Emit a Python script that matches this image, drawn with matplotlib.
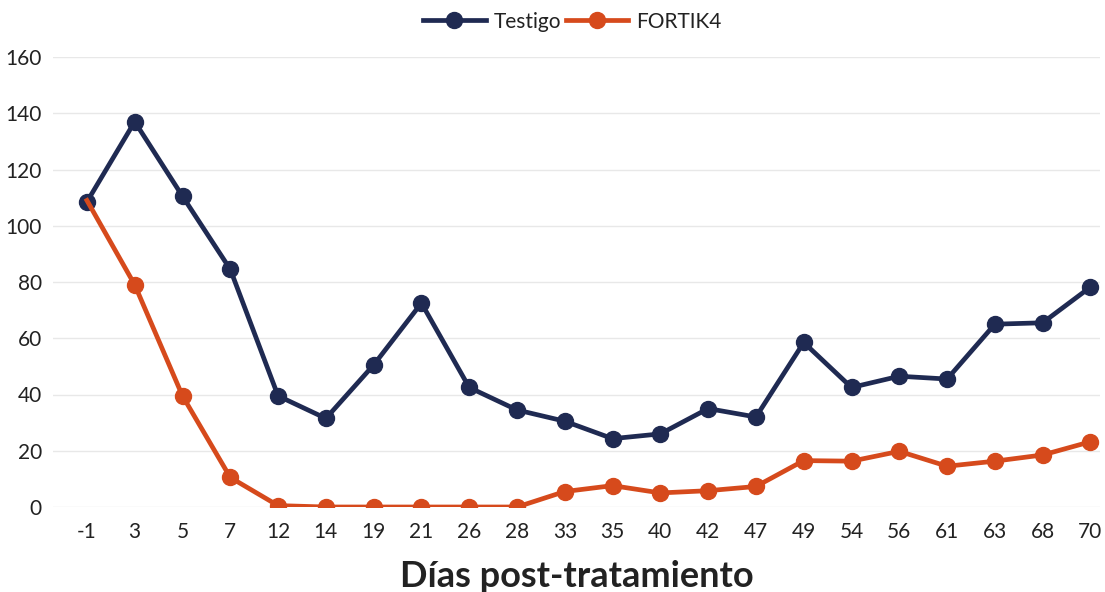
import matplotlib
matplotlib.use("Agg")
import matplotlib.pyplot as plt

DAYS = ["-1", "3", "5", "7", "12", "14", "19", "21", "26", "28", "33",
        "35", "40", "42", "47", "49", "54", "56", "61", "63", "68", "70"]
TESTIGO = [108.5, 137, 110.5, 84.5, 39.5, 31.5, 50.5, 72.5, 42.5, 34.5, 30.5,
           24.3, 26, 35, 32, 58.5, 42.5, 46.5, 45.5, 65, 65.5, 78.2]
FORTIK4 = [109, 79, 39.5, 10.5, 0.5, 0, 0, 0, 0, 0, 5.5,
           7.6, 5, 5.8, 7.3, 16.5, 16.3, 19.8, 14.5, 16.3, 18.5, 23.2]

NAVY = "#1F2A52"
ORANGE = "#D64A1C"
INK = "#222222"

plt.rcParams["font.family"] = ["Lato", "DejaVu Sans"]

fig = plt.figure(figsize=(11.05, 5.92), dpi=100)
ax = fig.add_axes([53 / 1105, 85 / 592, 1047 / 1105, 450 / 592])

x = list(range(len(DAYS)))
ax.plot(x, TESTIGO, color=NAVY, lw=3.4, marker="o", ms=11.5, label="Testigo", zorder=3)
# first orange point has its marker hidden, line still passes over the navy dot
ax.plot(x, FORTIK4, color=ORANGE, lw=3.4, marker="o", ms=11.5, label="FORTIK4", zorder=4,
        markevery=list(range(1, len(x))))

ax.set_ylim(0, 160)
ax.set_yticks(range(0, 161, 20))
ax.set_xlim(-0.71, 21.2)
ax.set_xticks(x)
ax.set_xticklabels(DAYS)
ax.tick_params(axis="both", length=0, labelsize=15, colors=INK)
ax.tick_params(axis="x", pad=11)
ax.tick_params(axis="y", pad=8)
ax.grid(axis="y", color="#E8E8E8", lw=1)
ax.set_axisbelow(True)
for s in ax.spines.values():
    s.set_visible(False)

ax.set_xlabel("Días post-tratamiento", fontsize=26, fontweight="bold", color=INK, labelpad=13)

fig.legend(loc="upper center", bbox_to_anchor=(0.518, 1.012), ncol=2, frameon=False,
           fontsize=15, handlelength=3.0, columnspacing=0.2, handletextpad=0.4,
           labelcolor=INK)

fig.savefig("out.png", dpi=100, facecolor="white")
